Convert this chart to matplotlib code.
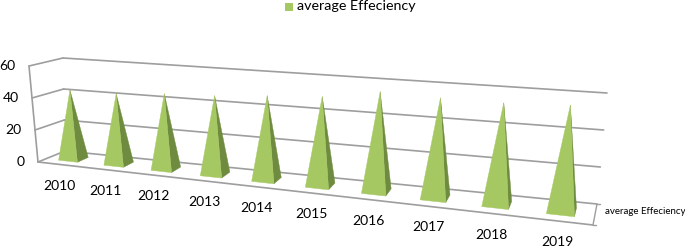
import numpy as np
import matplotlib
matplotlib.use('Agg')
import matplotlib.pyplot as plt
from matplotlib.patches import Polygon, Rectangle

plt.rcParams['font.family'] = ['Lato', 'DejaVu Sans']

years = ['2010', '2011', '2012', '2013', '2014', '2015', '2016', '2017', '2018', '2019']
efficiency = [43.4, 43.3, 45.7, 46.9, 49.3, 51.2, 56.4, 55.4, 55.2, 56.6]
value_ticks = [0, 20, 40, 60]
series_name = 'average Effeciency'

V_MAX = 60
N = len(years)

# Box corners in pixels, the chart is a fake 3D one
BACK_BOTTOM = np.array([[65, 151], [597, 204]], dtype=float)
BACK_TOP = np.array([[63, 58], [607, 93]], dtype=float)
FRONT_BOTTOM = np.array([[38, 162], [593, 225]], dtype=float)
FRONT_TOP = np.array([[29, 66], [604, 109]], dtype=float)
PERSPECTIVE = 1.25

GREY = '#9e9e9e'
LIGHT = '#a6c862'
DARK = '#6f8b3f'


def project(x, v, d):
    """category position x (0..N), value v, depth d (0 back, 1 front) -> pixels"""
    u = x / N
    t = u / (PERSPECTIVE + (1 - PERSPECTIVE) * u)
    s = v / V_MAX
    back = (1 - s) * (BACK_BOTTOM[0] + t * (BACK_BOTTOM[1] - BACK_BOTTOM[0])) \
        + s * (BACK_TOP[0] + t * (BACK_TOP[1] - BACK_TOP[0]))
    front = (1 - s) * (FRONT_BOTTOM[0] + t * (FRONT_BOTTOM[1] - FRONT_BOTTOM[0])) \
        + s * (FRONT_TOP[0] + t * (FRONT_TOP[1] - FRONT_TOP[0]))
    return (1 - d) * back + d * front


fig = plt.figure(figsize=(6.85, 2.48), dpi=100)
ax = fig.add_axes([0, 0, 1, 1])
ax.set_xlim(0, 685)
ax.set_ylim(248, 0)
ax.axis('off')


def line(a, b, lw=1.2):
    ax.plot([a[0], b[0]], [a[1], b[1]], color=GREY, lw=lw, solid_capstyle='round', zorder=1)


# walls and floor
for v in value_ticks:
    line(project(0, v, 1), project(0, v, 0))
    line(project(0, v, 0), project(N, v, 0))
    px = project(0, v, 1)
    ax.text(px[0] - 13.5, px[1] + 0.5, str(v), ha='right', va='center', fontsize=10, color='black')
line(project(0, 0, 1), project(0, V_MAX, 1))
line(project(0, 0, 1), project(N, 0, 1))
line(project(N, 0, 1), project(N, 0, 0), lw=1.0)
front_end = project(N, 0, 1)
back_end = project(N, 0, 0)
line(front_end, front_end + [3, 0], lw=1.0)
line(back_end, back_end + [3, 0], lw=1.0)

# pyramids
half_w = 0.21
half_d = 0.21
for i, val in enumerate(efficiency):
    c = i + 0.5
    front_l = project(c - half_w, 0, 0.5 + half_d)
    front_r = project(c + half_w, 0, 0.5 + half_d)
    back_r = project(c + half_w, 0, 0.5 - half_d)
    apex = project(c, val, 0.5)
    ax.add_patch(Polygon([front_r, back_r, apex], closed=True, facecolor=DARK, edgecolor=DARK, lw=0.3, zorder=3))
    ax.add_patch(Polygon([front_l, front_r, apex], closed=True, facecolor=LIGHT, edgecolor=LIGHT, lw=0.3, zorder=4))
    lab = project(c, 0, 1)
    ax.text(lab[0] - 1, lab[1] + 21, years[i], ha='center', va='center', fontsize=10, color='black')

# series label next to the depth axis
ax.text(605, 212, series_name, ha='left', va='center', fontsize=7, color='black')

# legend
ax.add_patch(Rectangle((285, 3), 8, 8, facecolor=LIGHT, edgecolor='none'))
ax.text(297, 6.5, series_name, ha='left', va='center', fontsize=10.3, color='black')

fig.savefig('out.png', dpi=100)
